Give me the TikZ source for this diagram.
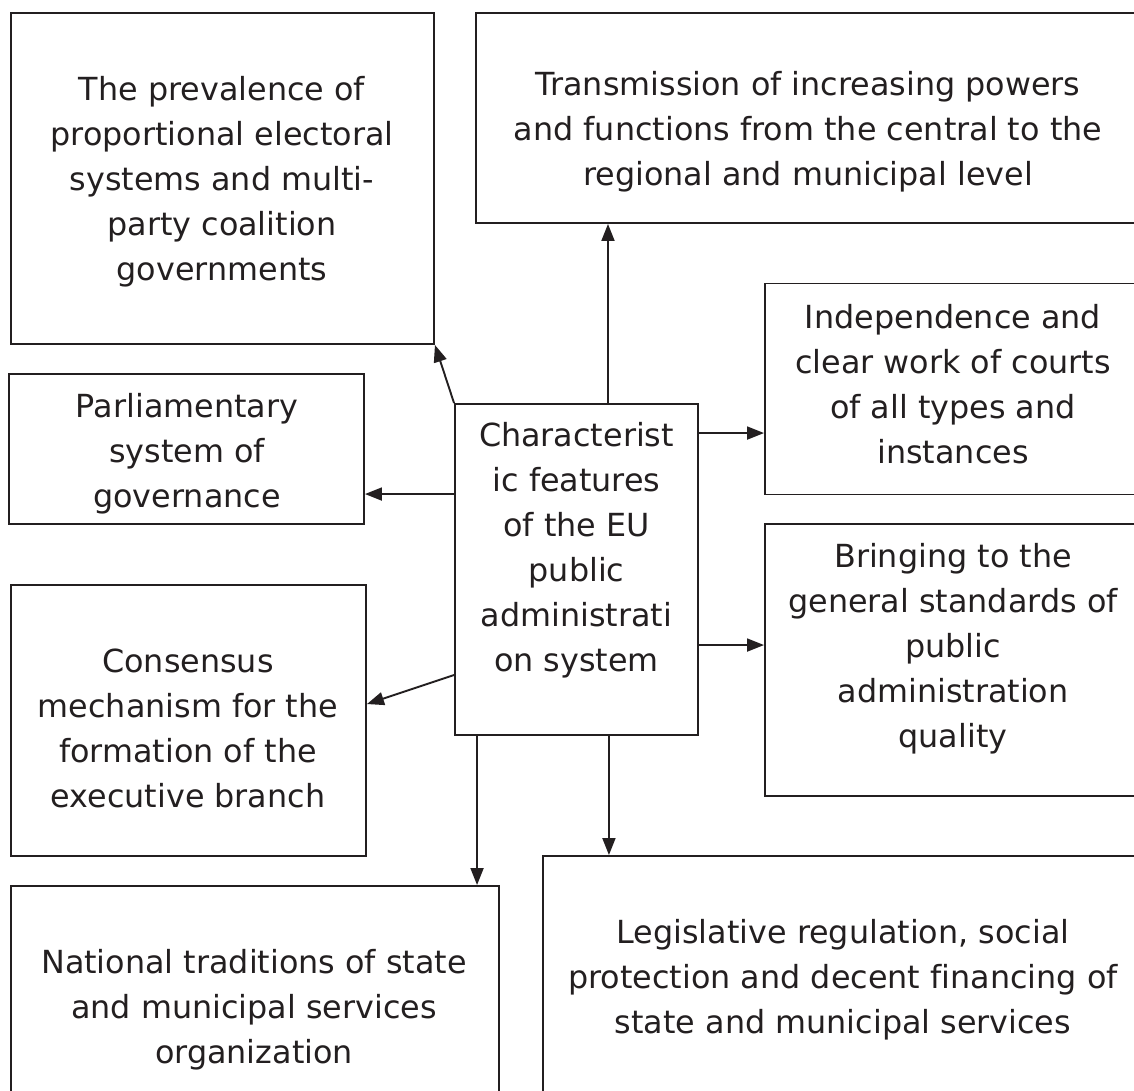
\documentclass[tikz,border=0pt]{standalone}
\usepackage{fontspec}
\setmainfont{DejaVu Sans}[Ligatures=NoCommon]
\usetikzlibrary{arrows.meta}
\definecolor{ink}{HTML}{231F20}
\begin{document}
\begin{tikzpicture}[x=1pt,y=-1pt,
  box/.style={draw=ink, line width=1.9pt, rectangle, inner sep=0pt},
  boxtext/.style={align=center, inner sep=0pt, text=ink,
    font=\fontsize{31.8}{45}\selectfont,
    execute at begin node=\strut, execute at end node=\strut},
  arr/.style={draw=ink, line width=1.9pt, -{Triangle[length=17pt,width=13pt]}}]

\useasboundingbox (0,0) rectangle (1134,1091);
\fill[white] (0,0) rectangle (1134,1091);
\clip (0,0) rectangle (1134,1091);

% frames
\node[box, minimum width=423, minimum height=331] (A) at (222.5,178.5) {};
\node[box, minimum width=665, minimum height=210] (B) at (808.5,118) {};
\node[box, minimum width=376, minimum height=211] (C) at (953,389) {};
\node[box, minimum width=355, minimum height=150] (D) at (186.5,449) {};
\node[box, minimum width=243, minimum height=331] (E) at (576.5,569.5) {};
\node[box, minimum width=376, minimum height=272] (F) at (953,660) {};
\node[box, minimum width=355, minimum height=271] (G) at (188.5,720.5) {};
\node[box, minimum width=488, minimum height=244] (H) at (255,1008) {};
\node[box, minimum width=600, minimum height=274] (I) at (843,993) {};

% captions
\node[boxtext] (Atxt) at (222,185) {The prevalence of\\proportional electoral\\systems and multi-\\party coalition\\governments};
\node[boxtext] (Btxt) at (808,135) {Transmission of increasing powers\\and functions from the central to the\\regional and municipal level};
\node[boxtext] (Ctxt) at (953,390.5) {Independence and\\clear work of courts\\of all types and\\instances};
\node[boxtext] (Dtxt) at (187,457) {Parliamentary\\system of\\governance};
\node[boxtext] (Etxt) at (576.5,554) {Characterist\\ic features\\of the EU\\public\\administrati\\on system};
\node[boxtext] (Ftxt) at (953,652) {Bringing to the\\general standards of\\public\\administration\\quality};
\node[boxtext] (Gtxt) at (188,734.5) {Consensus\\mechanism for the\\formation of the\\executive branch};
\node[boxtext] (Htxt) at (254,1013) {National traditions of state\\and municipal services\\organization};
\node[boxtext] (Itxt) at (843,983) {Legislative regulation, social\\protection and decent financing of\\state and municipal services};

% connectors from the central frame
\draw[arr] (E.north west) -- (A.south east);
\draw[arr] ([xshift=31.5]E.north) -- ([xshift=31.5]E.north |- B.south);
\draw[arr] ([yshift=-30]E.north east) -- ([yshift=-30]E.north east -| C.west);
\draw[arr] ([yshift=-91]E.north west) -- ([yshift=-91]E.north west -| D.east);
\draw[arr] ([yshift=-242]E.north east) -- ([yshift=-242]E.north east -| F.west);
\draw[arr] ([yshift=-272]E.north west) -- ([yshift=-120]G.north east);
\draw[arr] ([xshift=23]E.south west) -- ([xshift=23]E.south west |- H.north);
\draw[arr] ([xshift=-90]E.south east) -- ([xshift=-90]E.south east |- I.north);
\end{tikzpicture}
\end{document}
